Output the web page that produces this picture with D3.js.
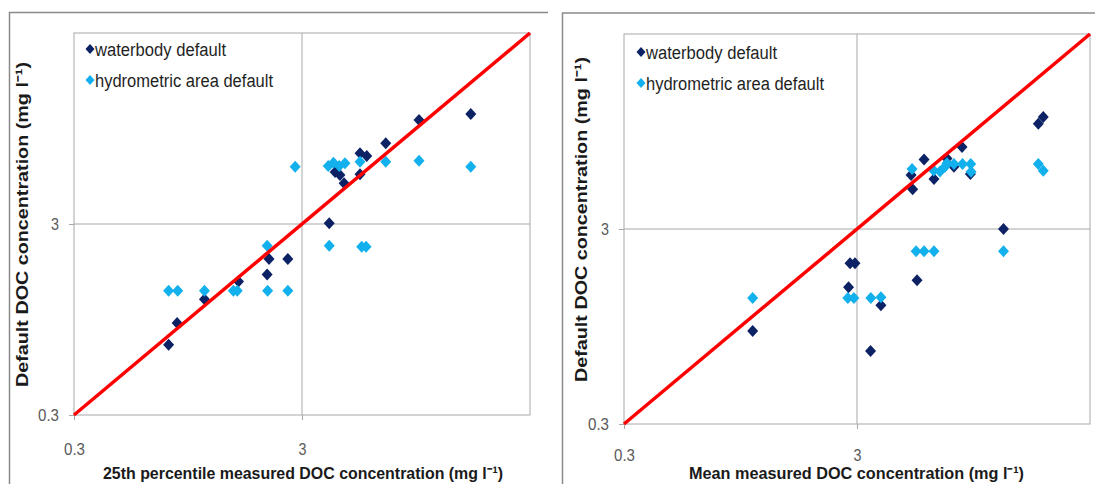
<!DOCTYPE html>
<html>
<head>
<meta charset="utf-8">
<script src="https://cdn.jsdelivr.net/npm/d3@7"></script>
<style>
  body { margin: 0; background: #fff; }
  svg { display: block; font-family: "Liberation Sans", Arial, sans-serif; }
</style>
</head>
<body>
<svg id="chart" width="1095" height="484"></svg>
<script>
// shared axis settings (log scale, mg/l)
var axisDomain = [0.3, 30];
var tickValues = [0.3, 3];
var seriesNames = ["waterbody default", "hydrometric area default"];
var seriesColors = ["#0c2265", "#12b0ec"];

// left panel: 25th percentile measured vs default  [measured, default]
var p25Waterbody = [[0.78,0.70],[0.85,0.91],[1.12,1.21],[1.58,1.50],[2.11,1.63],[2.15,1.97],[2.60,1.97],
  [3.95,3.03],[4.19,5.62],[4.40,5.42],[4.59,4.90],[5.39,7.04],[5.77,6.81],[5.39,5.46],[6.99,7.94],
  [9.78,10.5],[16.5,11.3]];
var p25Hydro = [[0.78,1.34],[0.855,1.34],[1.12,1.34],[1.50,1.34],[1.56,1.34],[2.12,1.34],[2.60,1.34],
  [2.11,2.31],[2.80,5.99],[3.91,6.04],[4.12,6.28],[4.37,6.04],[4.63,6.24],[5.39,6.36],[6.99,6.36],
  [9.78,6.43],[16.5,5.99],[3.95,2.31],[5.48,2.28],[5.73,2.28]];

// right panel: mean measured vs default
var meanWaterbody = [[1.07,0.90],[2.80,2.00],[2.94,2.00],[2.76,1.51],[3.43,0.71],[3.80,1.22],[5.12,5.68],
  [5.20,4.79],[5.43,1.64],[5.82,6.82],[6.42,5.42],[7.30,6.90],[7.82,6.26],[8.47,7.90],[9.20,5.74],
  [12.76,3.0],[18.0,10.4],[18.9,11.25]];
var meanHydro = [[1.07,1.33],[2.74,1.33],[2.91,1.33],[3.44,1.33],[3.80,1.34],[5.17,6.10],[5.38,2.31],
  [5.82,2.31],[6.42,2.31],[6.40,5.99],[6.81,5.92],[7.16,6.26],[7.30,6.52],[7.82,6.46],[8.51,6.46],
  [9.23,6.46],[9.26,5.90],[12.76,2.31],[18.0,6.46],[18.9,5.97]];

var svg = d3.select("#chart");
var diamond = "M0,-6L5.5,0L0,6L-5.5,0Z";
var smallDiamond = "M0,-5L4.5,0L0,5L-4.5,0Z";
var unit = " (mg l\u207B\u00B9)";

function drawPanel(p) {
  // outer frame (top + left edge visible)
  svg.append("path")
    .attr("d", "M" + p.frameX + ",484V" + p.frameY + "H" + p.frameR)
    .attr("fill", "none").attr("stroke", "#8a8a8a").attr("stroke-width", 1.5);

  var x = d3.scaleLog().domain(axisDomain).range([p.left, p.right]);
  var y = d3.scaleLog().domain(axisDomain).range([p.bottom, p.top]);

  var g = svg.append("g");

  // gridlines at the inner tick
  g.append("line").attr("x1", x(3)).attr("x2", x(3)).attr("y1", p.top).attr("y2", p.bottom)
    .attr("stroke", "#a8a8a8");
  g.append("line").attr("x1", p.left).attr("x2", p.right).attr("y1", y(3)).attr("y2", y(3))
    .attr("stroke", "#a8a8a8");

  // plot border
  g.append("rect").attr("x", p.left).attr("y", p.top)
    .attr("width", p.right - p.left).attr("height", p.bottom - p.top)
    .attr("fill", "none").attr("stroke", "#a8a8a8");

  var fmt = function(d) { return String(d); };
  var xa = g.append("g").attr("transform", "translate(0," + p.bottom + ")")
    .call(d3.axisBottom(x).tickValues(tickValues).tickFormat(fmt).tickSize(5).tickPadding(p.xPad));
  var ya = g.append("g").attr("transform", "translate(" + p.left + ",0)")
    .call(d3.axisLeft(y).tickValues(tickValues).tickFormat(fmt).tickSize(5).tickPadding(10));
  [xa, ya].forEach(function(a) {
    a.attr("font-size", 17).attr("font-family", "'Liberation Sans', Arial, sans-serif");
    a.select(".domain").remove();
    a.selectAll(".tick line").attr("stroke", "#a8a8a8");
    a.selectAll(".tick text").attr("fill", "#5a5a5a")
      .attr("textLength", function(d) { return d < 1 ? 21 : 8; })
      .attr("lengthAdjust", "spacingAndGlyphs");
  });

  // series
  var series = [p.waterbody, p.hydro];
  series.forEach(function(data, i) {
    g.append("g").selectAll("path").data(data).enter().append("path")
      .attr("d", diamond)
      .attr("transform", function(d) { return "translate(" + x(d[0]) + "," + y(d[1]) + ")"; })
      .attr("fill", seriesColors[i]);
  });

  // 1:1 line
  g.append("line")
    .attr("x1", x(axisDomain[0])).attr("y1", y(axisDomain[0]))
    .attr("x2", x(axisDomain[1])).attr("y2", y(axisDomain[1]))
    .attr("stroke", "#ff0000").attr("stroke-width", 3.5);

  // legend
  seriesNames.forEach(function(name, i) {
    var ly = p.legendY + i * 31;
    g.append("path").attr("d", smallDiamond)
      .attr("transform", "translate(" + p.legendX + "," + ly + ")")
      .attr("fill", seriesColors[i]);
    g.append("text").attr("x", p.legendX + 5).attr("y", ly + 6.5)
      .attr("fill", "#1f1f1f").style("font-size", "18px")
      .attr("textLength", p.legendW[i]).attr("lengthAdjust", "spacingAndGlyphs")
      .text(name);
  });

  // axis titles
  svg.append("text").attr("x", p.xTitleX).attr("y", 479)
    .attr("font-weight", "bold").style("font-size", "17px").attr("fill", "#1a1a1a")
    .attr("textLength", p.xTitleW).attr("lengthAdjust", "spacingAndGlyphs")
    .text(p.xTitle + unit);

  svg.append("text")
    .attr("transform", "translate(" + p.yTitleX + "," + p.yTitleBottom + ") rotate(-90)")
    .attr("font-weight", "bold").style("font-size", "17px").attr("fill", "#1a1a1a")
    .attr("textLength", 325).attr("lengthAdjust", "spacingAndGlyphs")
    .text("Default DOC concentration" + unit);
}

drawPanel({
  frameX: 9.5, frameY: 12.5, frameR: 548,
  left: 74, right: 530, top: 33, bottom: 415, xPad: 23,
  waterbody: p25Waterbody, hydro: p25Hydro,
  legendX: 90, legendY: 49, legendW: [131, 178],
  xTitle: "25th percentile measured DOC concentration", xTitleX: 103, xTitleW: 400,
  yTitleX: 28, yTitleBottom: 387
});

drawPanel({
  frameX: 562.5, frameY: 13, frameR: 1095,
  left: 624, right: 1090, top: 34, bottom: 424, xPad: 20,
  waterbody: meanWaterbody, hydro: meanHydro,
  legendX: 641, legendY: 52, legendW: [131, 178],
  xTitle: "Mean measured DOC concentration", xTitleX: 689, xTitleW: 335,
  yTitleX: 587, yTitleBottom: 382
});
</script>
</body>
</html>
